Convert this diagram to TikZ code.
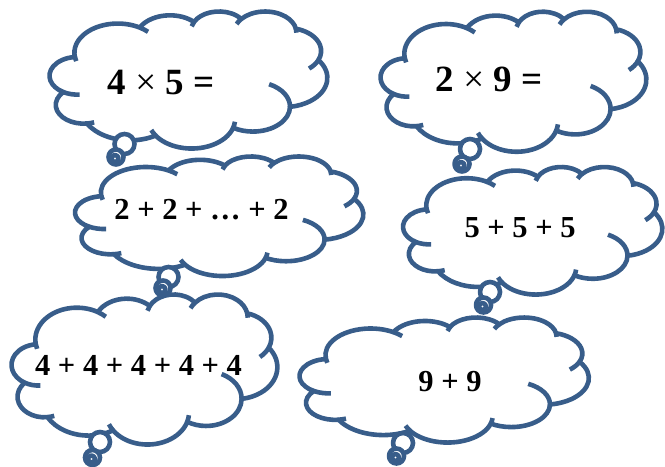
\documentclass[tikz,border=0pt]{standalone}
\usepackage{fontspec}
\setmainfont{Liberation Serif}
\definecolor{cloudblue}{HTML}{385D8A}
\tikzset{
  cloudline/.style={draw=cloudblue, line width=4.6bp, line join=round},
  cloudfill/.style={cloudline, fill=white},
  bigtext/.style={font=\fontsize{37bp}{44bp}\selectfont\bfseries, inner sep=0pt, anchor=base},
  sumtext/.style={font=\fontsize{30.5bp}{36bp}\selectfont\bfseries, inner sep=0pt, anchor=base},
}
\newcommand\cstub[6]{\draw[cloudline] (#1,#2) ++(#5:#3 and #4) arc[start angle=#5,end angle=#6,x radius=#3,y radius=#4];}
\newcommand\cloudbody[4]{%
\begin{scope}[shift={(#1,#2)},x=#3bp,y=-#4bp]
\draw[cloudfill] (9.028,33.264)
 arc[start angle=172.25,end angle=300.36,x radius=15.632,y radius=21.273]
 arc[start angle=-152.02,end angle=-45.45,x radius=12.345,y radius=16.822]
 arc[start angle=-153.49,end angle=-37.32,x radius=10.104,y radius=13.762]
 arc[start angle=-139.72,end angle=-10.22,x radius=11.243,y radius=15.266]
 arc[start angle=-74.77,end angle=23.22,x radius=12.345,y radius=16.836]
 arc[start angle=-37.52,end angle=81.86,x radius=15.683,y radius=21.343]
 arc[start angle=0.46,end angle=121.98,x radius=13.391,y radius=18.211]
 arc[start angle=16.84,end angle=146.23,x radius=15.630,y radius=21.331]
 arc[start angle=58.98,end angle=150.20,x radius=17.870,y radius=24.405]
 arc[start angle=83.31,end angle=223.10,x radius=10.093,y radius=13.699]
 arc[start angle=120.35,end angle=264.11,x radius=10.058,y radius=13.762]
 -- cycle;
\cstub{9.968}{47.259}{10.058}{13.762}{85.54}{120.35}
\cstub{12.255}{68.495}{10.093}{13.699}{68.22}{83.31}
\cstub{51.139}{79.030}{15.630}{21.331}{146.23}{158.47}
\cstub{51.139}{79.030}{15.630}{21.331}{4.73}{16.84}
\cstub{73.190}{69.764}{13.391}{18.211}{-64.03}{0.46}
\cstub{85.458}{29.146}{12.345}{16.836}{23.22}{49.65}
\cstub{77.637}{15.609}{11.243}{15.266}{-10.22}{0.82}
\cstub{77.637}{15.609}{11.243}{15.266}{-156.3}{-139.72}
\cstub{61.023}{14.086}{10.104}{13.762}{-167.72}{-153.49}
\cstub{24.516}{30.396}{15.632}{21.273}{300.36}{314.25}
\cstub{24.516}{30.396}{15.632}{21.273}{163.19}{172.25}
\end{scope}}
\newcommand\ctail[6]{%
\draw[cloudfill] (#1,#2) circle[radius=10bp];
\draw[cloudfill] (#3,#4) circle[radius=7.5bp];
\draw[cloudfill] (#5,#6) circle[radius=3.5bp];}
\begin{document}
\begin{tikzpicture}[x=1bp,y=-1bp]
\useasboundingbox (0,0) rectangle (665,467);
% top left
\cloudbody{49.75}{11.05}{2.775}{1.37}
\ctail{124.5}{144}{116}{157}{115}{158.5}
% top right
\cloudbody{380.75}{11.25}{2.655}{1.40}
\ctail{470}{149}{462}{164}{461}{165.5}
% middle left
\cloudbody{75.25}{156.1}{2.88}{1.195}
\ctail{168.5}{277}{163}{288}{162}{289.5}
% middle right
\cloudbody{403.25}{166.6}{2.59}{1.275}
\ctail{490}{292}{483.5}{305}{482.5}{306.5}
% bottom left
\cloudbody{11.75}{294}{2.655}{1.50}
\ctail{100}{442}{92.5}{457.5}{91.5}{459}
% bottom right
\cloudbody{299.75}{317.1}{2.89}{1.25}
\ctail{403}{443}{396.5}{456}{395.5}{457.5}
% texts
\node[bigtext] (t1) at (161,95) {4 {\mdseries ×} 5 =};
\node[bigtext] (t2) at (489,91.5) {2 {\mdseries ×} 9 =};
\node[sumtext] (t3) at (201.5,220) {2 + 2 + … + 2};
\node[sumtext] (t4) at (520,238) {5 + 5 + 5};
\node[sumtext] (t5) at (138.5,375) {4 + 4 + 4 + 4 + 4};
\node[sumtext] (t6) at (450,391.5) {9 + 9};
\end{tikzpicture}
\end{document}
